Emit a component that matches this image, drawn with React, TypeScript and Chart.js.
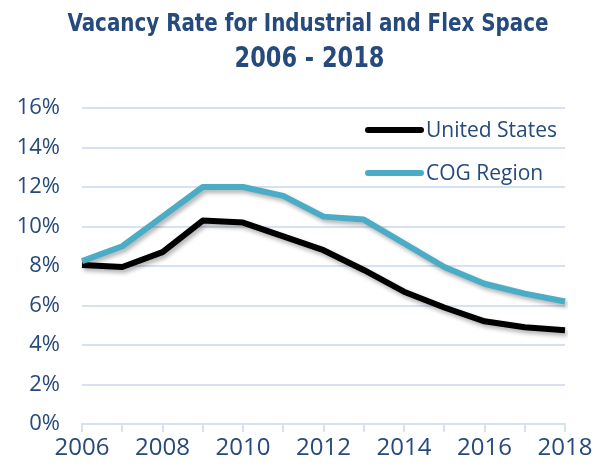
import React, { useEffect, useRef } from "react";
import { Chart, registerables } from "chart.js";

Chart.register(...registerables);

const titleLines = ["Vacancy Rate for Industrial and Flex Space", "2006 - 2018"];
const years = ["2006", "2007", "2008", "2009", "2010", "2011", "2012", "2013", "2014", "2015", "2016", "2017", "2018"];
const seriesNames = ["United States", "COG Region"];
const usRates = [8.05, 7.95, 8.7, 10.3, 10.2, 9.5, 8.8, 7.8, 6.7, 5.9, 5.2, 4.9, 4.75];
const cogRates = [8.25, 9.0, 10.5, 12.0, 12.0, 11.55, 10.5, 10.35, 9.15, 7.95, 7.1, 6.6, 6.2];
const yTicks = [0, 2, 4, 6, 8, 10, 12, 14, 16];

const TEXT = "#254a7b";
const GRID = "#d6e1f1";
const BODY_FONT = "'Open Sans', 'Liberation Sans', sans-serif";
const TITLE_FONT = "'DejaVu Sans Condensed', 'Liberation Sans', sans-serif";

function drawFitted(ctx: any, text: string, cx: number, baseline: number, width: number, font: string) {
  ctx.save();
  ctx.font = font;
  const w = ctx.measureText(text).width;
  const s = w > 0 ? width / w : 1;
  ctx.translate(cx, baseline);
  ctx.scale(s, 1);
  ctx.textAlign = "center";
  ctx.textBaseline = "alphabetic";
  ctx.fillText(text, 0, 0);
  ctx.restore();
}

const titlePlugin = {
  id: "customTitle",
  afterDraw(chart: any) {
    const ctx = chart.ctx;
    ctx.save();
    ctx.fillStyle = TEXT;
    drawFitted(ctx, titleLines[0], 308, 31, 481, `bold 25px ${TITLE_FONT}`);
    drawFitted(ctx, titleLines[1], 309.5, 67, 150, `bold 28px ${TITLE_FONT}`);
    ctx.restore();
  },
};

const legendPlugin = {
  id: "customLegend",
  afterDraw(chart: any) {
    const ctx = chart.ctx;
    ctx.save();
    chart.data.datasets.forEach((ds: any, i: number) => {
      const y = 130 + i * 43;
      ctx.strokeStyle = ds.borderColor;
      ctx.lineWidth = 6;
      ctx.lineCap = "round";
      ctx.beginPath();
      ctx.moveTo(368, y);
      ctx.lineTo(421, y);
      ctx.stroke();
      ctx.fillStyle = TEXT;
      ctx.font = `21px ${BODY_FONT}`;
      ctx.textAlign = "left";
      ctx.textBaseline = "middle";
      ctx.fillText(ds.label, 426, y + 1);
    });
    ctx.restore();
  },
};

const shadowPlugin = {
  id: "lineShadow",
  beforeDatasetsDraw(chart: any) {
    const c = chart.ctx;
    c.save();
    c.shadowColor = "rgba(0,0,0,0.3)";
    c.shadowBlur = 4;
    c.shadowOffsetX = 2;
    c.shadowOffsetY = 3;
  },
  afterDatasetsDraw(chart: any) {
    chart.ctx.restore();
  },
};

export default function App() {
  const ref = useRef<HTMLCanvasElement | null>(null);

  useEffect(() => {
    if (!ref.current) return;
    const chart = new Chart(ref.current, {
      type: "line",
      data: {
        labels: years,
        datasets: [
          {
            label: seriesNames[0],
            data: usRates,
            borderColor: "#000000",
            backgroundColor: "#000000",
            borderWidth: 6,
            pointRadius: 0,
            tension: 0,
            borderJoinStyle: "round",
            order: 1,
          },
          {
            label: seriesNames[1],
            data: cogRates,
            borderColor: "#4bacc6",
            backgroundColor: "#4bacc6",
            borderWidth: 6,
            pointRadius: 0,
            tension: 0,
            borderJoinStyle: "round",
            order: 0,
          },
        ],
      },
      options: {
        responsive: false,
        animation: false,
        layout: { padding: { top: 108, right: 34, left: 0, bottom: 0 } },
        plugins: {
          legend: { display: false },
          title: { display: false },
          tooltip: { enabled: false },
        },
        scales: {
          x: {
            offset: false,
            grid: {
              display: true,
              drawOnChartArea: false,
              drawTicks: true,
              tickLength: 8,
              color: GRID,
              lineWidth: 2,
            },
            border: { display: true, color: GRID, width: 2 },
            ticks: {
              autoSkip: false,
              maxRotation: 0,
              color: TEXT,
              padding: 2,
              font: { family: BODY_FONT, size: 24 },
              callback: (_v: any, i: number) => (i % 2 === 0 ? years[i] : ""),
            },
            afterFit: (s: any) => {
              s.height = 44;
            },
          },
          y: {
            min: yTicks[0],
            max: yTicks[yTicks.length - 1],
            grid: { color: GRID, lineWidth: 2, drawTicks: false },
            border: { display: false },
            ticks: {
              stepSize: 2,
              color: TEXT,
              padding: 22,
              font: { family: BODY_FONT, size: 22 },
              callback: (v: any) => `${v}%`,
            },
            afterFit: (s: any) => {
              s.width = 82;
            },
          },
        },
      },
      plugins: [shadowPlugin, titlePlugin, legendPlugin],
    });
    return () => chart.destroy();
  }, []);

  return (
    <div style={{ position: "fixed", left: 0, top: 0, width: 599, height: 468, background: "#fff" }}>
      <canvas ref={ref} width={599} height={468} />
    </div>
  );
}
